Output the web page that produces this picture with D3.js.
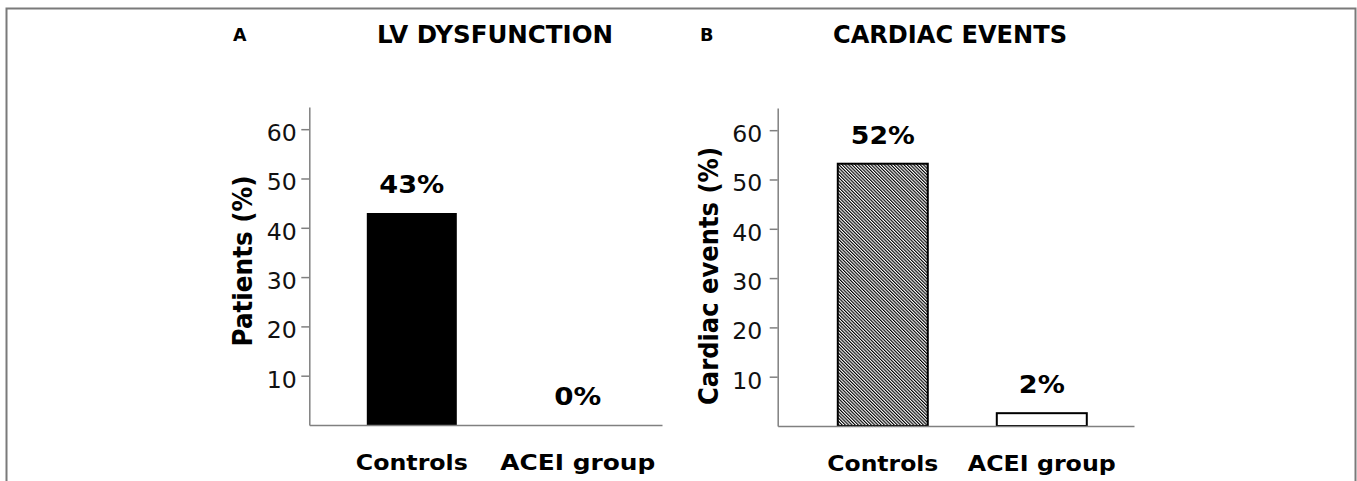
<!DOCTYPE html>
<html>
<head>
<meta charset="utf-8">
<script src="https://cdn.jsdelivr.net/npm/d3@7"></script>
<style>
  html, body { margin: 0; padding: 0; background: #fff; }
  svg { display: block; }
  text { font-family: "DejaVu Sans", Verdana, sans-serif; }
</style>
</head>
<body>
<svg id="chart" width="1357" height="481"></svg>
<script>
// ---- data ----
const categories = ["Controls", "ACEI group"];
const lvValues = [43, 0];
const lvLabels = ["43%", "0%"];
const cardiacValues = [53.2, 2.6];
const cardiacLabels = ["52%", "2%"];
const yTickValues = [10, 20, 30, 40, 50, 60];
const panelLetters = ["A", "B"];
const panelTitles = ["LV DYSFUNCTION", "CARDIAC EVENTS"];
const yTitles = ["Patients (%)", "Cardiac events (%)"];

const svg = d3.select("#chart");

// hatch pattern (fine diagonal lines, top-left to bottom-right)
const defs = svg.append("defs");
const pw = 2.3;
const pat = defs.append("pattern")
  .attr("id", "hatch")
  .attr("patternUnits", "userSpaceOnUse")
  .attr("width", pw).attr("height", pw)
  .attr("patternTransform", "rotate(-45)");
pat.append("rect").attr("width", pw).attr("height", pw).attr("fill", "#fff");
pat.append("line").attr("x1", pw / 4).attr("y1", 0).attr("x2", pw / 4).attr("y2", pw)
  .attr("stroke", "#000").attr("stroke-width", 1.15);

// frame
svg.append("rect").attr("x", 6.5).attr("y", 8.5).attr("width", 1349).attr("height", 600)
  .attr("fill", "none").attr("stroke", "#7a7a7a").attr("stroke-width", 2);

const panels = [
  {
    values: lvValues, labels: lvLabels,
    letter: panelLetters[0], title: panelTitles[0], yTitle: yTitles[0],
    axisX: 309.3, xEnd: 662, y0: 425, yTop: 107,
    align: 0.595, pInner: 0.458,
    fills: ["#000", "#000"], strokes: ["none", "none"],
    letterX: 233, titleCX: 495, titleLen: 236,
    yTitleX: 251.5, yTitleCY: 261, yTitleLen: 171,
    tickPad: 4.5,
    catLens: [112, 155], valLens: [65, 47]
  },
  {
    values: cardiacValues, labels: cardiacLabels,
    letter: panelLetters[1], title: panelTitles[1], yTitle: yTitles[1],
    axisX: 777.7, xEnd: 1134, y0: 426, yTop: 108,
    align: 0.56, pInner: 0.434,
    fills: ["url(#hatch)", "#fff"], strokes: ["#000", "#000"],
    letterX: 700, titleCX: 950, titleLen: 234,
    yTitleX: 718, yTitleCY: 276, yTitleLen: 258,
    tickPad: 7.5,
    catLens: [111, 148], valLens: [64, 46]
  }
];

const axisColor = "#808080";

panels.forEach(p => {
  const g = svg.append("g");

  const y = d3.scaleLinear().domain([0, 64.5]).range([p.y0, p.yTop]);

  const L = p.xEnd - p.axisX;
  const bw = 90, step = bw / (1 - p.pInner);
  const outer = (L / step - (2 - p.pInner)) / 2;
  const x = d3.scaleBand().domain(categories)
    .range([p.axisX, p.xEnd])
    .paddingInner(p.pInner)
    .paddingOuter(outer)
    .align(p.align);

  // titles
  g.append("text").attr("x", p.letterX).attr("y", 40.5)
    .attr("font-size", 18).attr("font-weight", "bold").attr("fill", "#000")
    .attr("textLength", 13.5).attr("lengthAdjust", "spacingAndGlyphs")
    .text(p.letter);
  g.append("text").attr("x", p.titleCX).attr("y", 43)
    .attr("text-anchor", "middle")
    .attr("font-size", 24).attr("font-weight", "bold").attr("fill", "#000")
    .attr("textLength", p.titleLen).attr("lengthAdjust", "spacingAndGlyphs")
    .text(p.title);

  // bars
  g.selectAll("rect.bar").data(p.values).enter().append("rect")
    .attr("class", "bar")
    .attr("x", (d, i) => x(categories[i]))
    .attr("width", x.bandwidth())
    .attr("y", d => y(d))
    .attr("height", d => y(0) - y(d))
    .attr("fill", (d, i) => p.fills[i])
    .attr("stroke", (d, i) => d > 0 ? p.strokes[i] : "none")
    .attr("stroke-width", 2);

  // value labels
  g.selectAll("text.val").data(p.values).enter().append("text")
    .attr("class", "val")
    .attr("x", (d, i) => x(categories[i]) + x.bandwidth() / 2)
    .attr("y", d => y(d) - 20)
    .attr("text-anchor", "middle")
    .attr("font-size", 24).attr("font-weight", "bold").attr("fill", "#000")
    .attr("textLength", (d, i) => p.valLens[i]).attr("lengthAdjust", "spacingAndGlyphs")
    .text((d, i) => p.labels[i]);

  // y axis
  const yAxis = d3.axisLeft(y).tickValues(yTickValues).tickSize(8).tickSizeOuter(0).tickPadding(p.tickPad);
  const ya = g.append("g").attr("transform", `translate(${p.axisX},0)`).call(yAxis);
  ya.select(".domain").attr("stroke", axisColor).attr("stroke-width", 1.5);
  ya.selectAll(".tick line").attr("stroke", axisColor).attr("stroke-width", 1.5);
  ya.selectAll(".tick text")
    .attr("font-size", 23).attr("fill", "#111").attr("dy", "0.5em")
    .attr("textLength", 30).attr("lengthAdjust", "spacingAndGlyphs");

  // x axis
  const xAxis = d3.axisBottom(x).tickSize(0).tickSizeOuter(0).tickPadding(30);
  const xa = g.append("g").attr("transform", `translate(0,${p.y0})`).call(xAxis);
  xa.select(".domain").attr("stroke", axisColor).attr("stroke-width", 1.5);
  xa.selectAll(".tick text")
    .attr("font-size", 21).attr("font-weight", "bold").attr("fill", "#000")
    .attr("dy", "0.71em")
    .attr("textLength", (d, i) => p.catLens[i]).attr("lengthAdjust", "spacingAndGlyphs");

  // y title
  g.append("text")
    .attr("transform", `translate(${p.yTitleX},${p.yTitleCY}) rotate(-90)`)
    .attr("text-anchor", "middle")
    .attr("font-size", 27).attr("font-weight", "bold").attr("fill", "#000")
    .attr("textLength", p.yTitleLen).attr("lengthAdjust", "spacingAndGlyphs")
    .text(p.yTitle);
});
</script>
</body>
</html>
